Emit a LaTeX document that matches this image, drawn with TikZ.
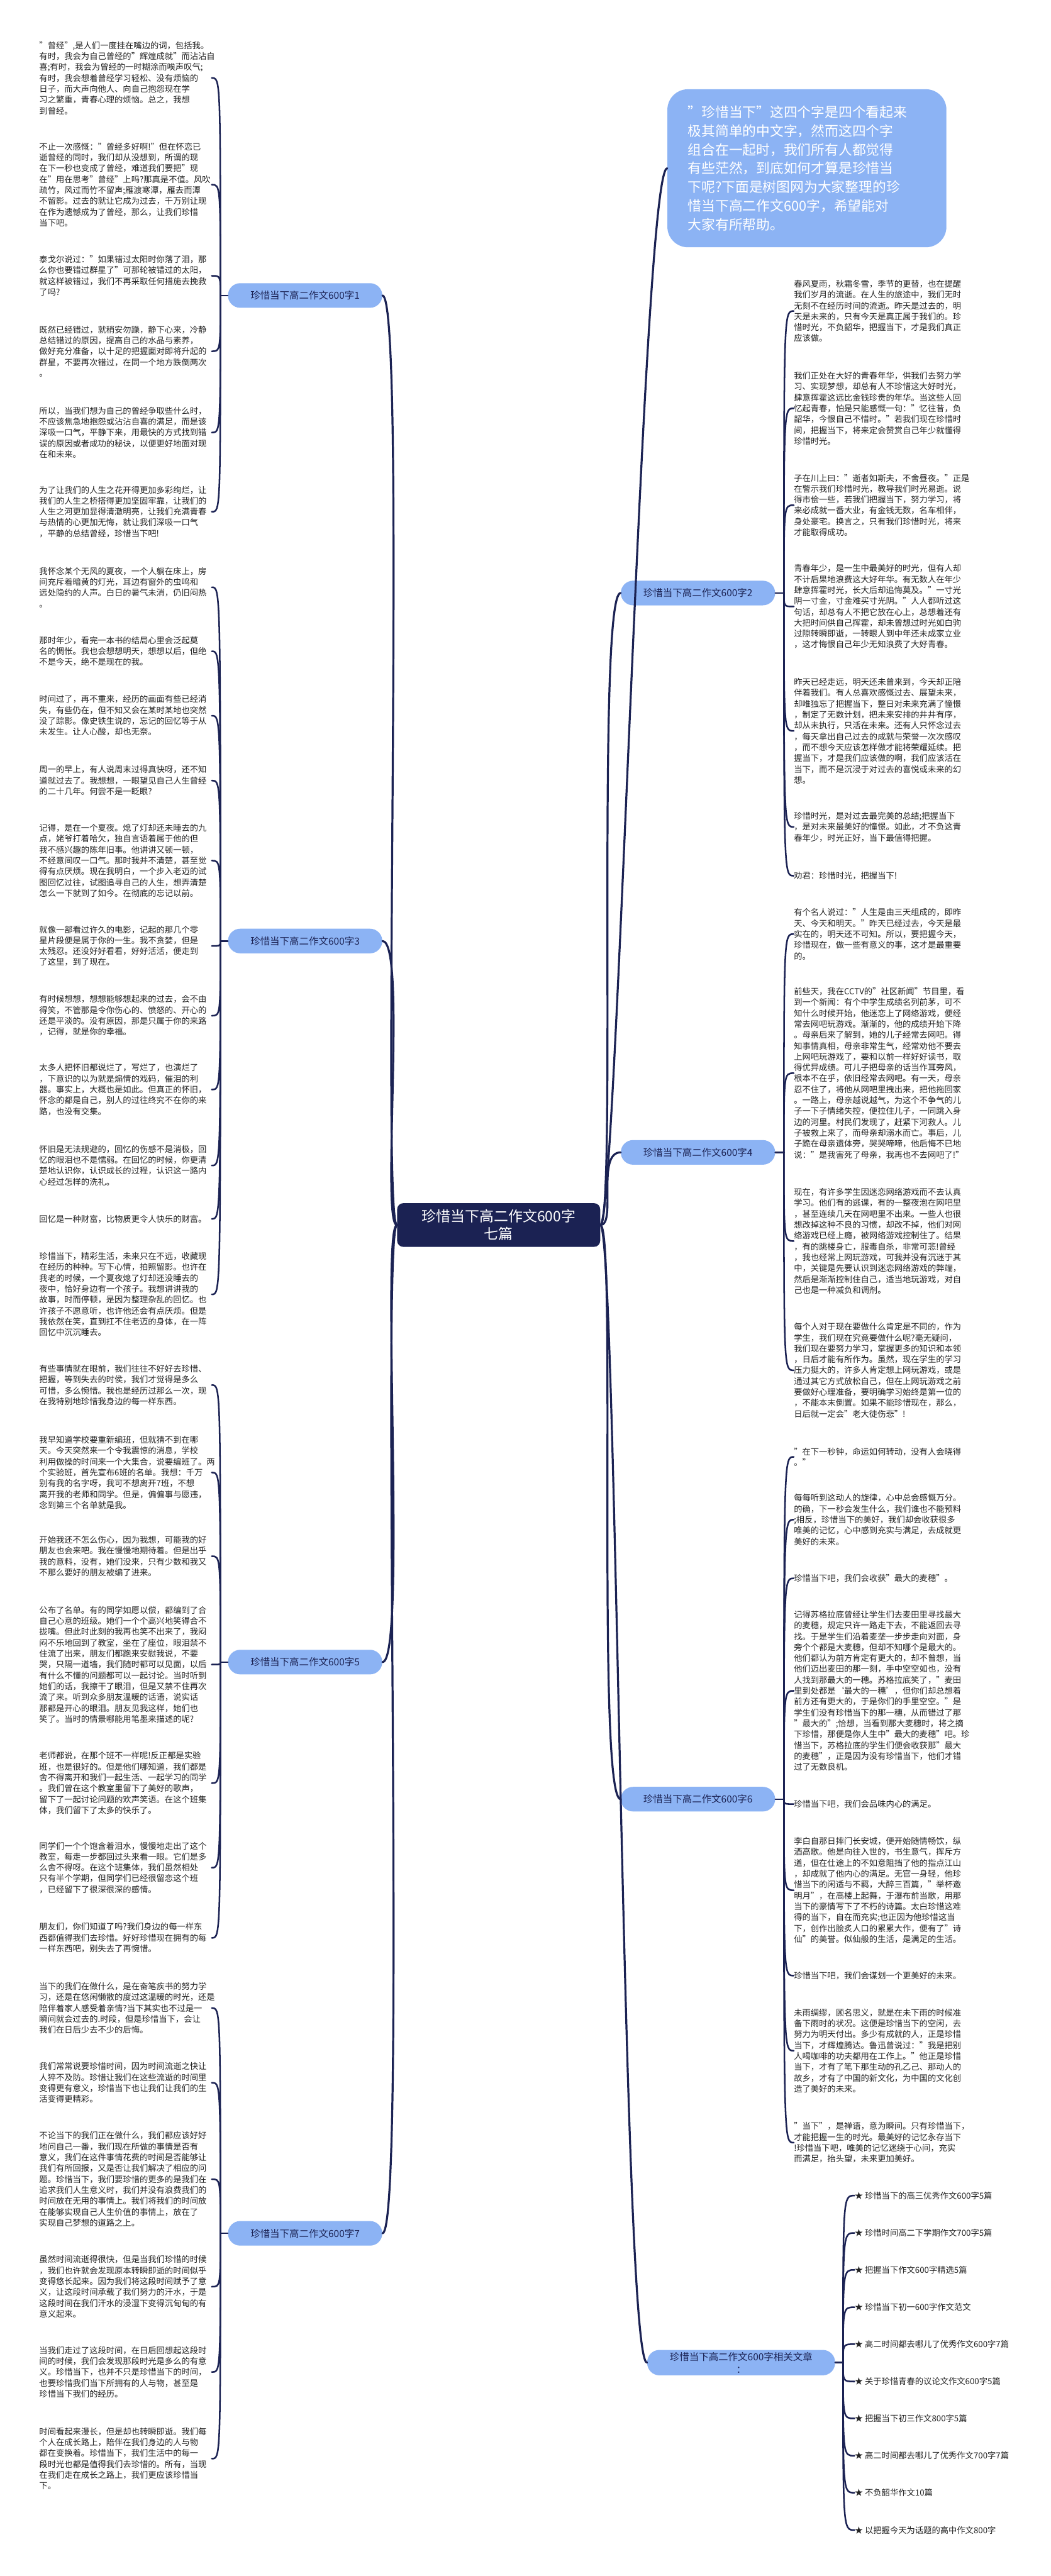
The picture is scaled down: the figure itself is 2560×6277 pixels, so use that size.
\documentclass[tikz,border=0pt]{standalone}
\usepackage{fontspec}
\setmainfont{Noto Sans CJK SC}
\definecolor{navy}{HTML}{1B2253}
\definecolor{capsule}{HTML}{8CB3F4}
\definecolor{ink}{HTML}{222222}

\begin{document}
\begin{tikzpicture}[x=0.02cm,y=-0.02cm,line cap=round,
  root node/.style={rectangle,rounded corners=0.3cm,fill=navy,text=white,align=center,
    font=\fontsize{20}{25}\selectfont,inner xsep=1.2cm,inner ysep=0.3cm},
  main node/.style={rectangle,rounded corners=0.6cm,fill=capsule,text=navy,align=center,
    font=\fontsize{13.5}{17}\selectfont,minimum height=1.2cm,inner xsep=1.1cm},
  intro/.style={rectangle,rounded corners=1cm,fill=capsule,text=white,align=left,
    font=\fontsize{19}{26}\selectfont,text width=11.6cm,inner xsep=1cm,inner ysep=0.8cm},
  leaf/.style={text=ink,font=\fontsize{11.6}{15.1}\selectfont,align=left,text width=8.4cm,inner sep=0pt},
  limb/.style={draw=navy,line width=2.8pt},
  limb left/.style={limb,to path={.. controls +(-40,0) and +(60,0) .. (\tikztotarget)}},
  limb right/.style={limb,to path={.. controls +(40,0) and +(-60,0) .. (\tikztotarget)}},
  stem/.style={draw=navy,line width=2.2pt},
  twig/.style={stem,to path={.. controls (\tikztostart |- \tikztotarget) .. (\tikztotarget)}}]
\useasboundingbox[fill=white] (0,0) rectangle (2560,6277);

% centre and branches
\node[root node] (0) at (1215,2985) {珍惜当下高二作文600字\\七篇};
\node[main node,anchor=west] (1) at (555,720) {珍惜当下高二作文600字1};
\node[main node,anchor=west] (3) at (555,2293) {珍惜当下高二作文600字3};
\node[main node,anchor=west] (5) at (555,4050) {珍惜当下高二作文600字5};
\node[main node,anchor=west] (7) at (555,5442) {珍惜当下高二作文600字7};
\node[main node,anchor=east] (2) at (1889,1445) {珍惜当下高二作文600字2};
\node[main node,anchor=east] (4) at (1889,2808) {珍惜当下高二作文600字4};
\node[main node,anchor=east] (6) at (1889,4384) {珍惜当下高二作文600字6};
\node[main node,anchor=east] (r) at (2035,5757) {珍惜当下高二作文600字相关文章\\：};
\node[intro] (i) at (1966,410) {"珍惜当下"这四个字是四个看起来\\极其简单的中文字，然而这四个字\\组合在一起时，我们所有人都觉得\\有些茫然，到底如何才算是珍惜当\\下呢?下面是树图网为大家整理的珍\\惜当下高二作文600字，希望能对\\大家有所帮助。};

\coordinate (j1) at (537,720);
\coordinate (j3) at (537,2293);
\coordinate (j5) at (537,4050);
\coordinate (j7) at (537,5442);
\coordinate (j2) at (1910,1445);
\coordinate (j4) at (1910,2808);
\coordinate (j6) at (1910,4384);
\coordinate (jr) at (2054,5757);

% branch 1
\node[leaf,anchor=east] (1a) at (516,190) {"曾经",是人们一度挂在嘴边的词，包括我。\\有时，我会为自己曾经的"辉煌成就"而沾沾自\\喜;有时，我会为曾经的一时糊涂而唉声叹气;\\有时，我会想着曾经学习轻松、没有烦恼的\\日子，而大声向他人、向自己抱怨现在学\\习之繁重，青春心理的烦恼。总之，我想\\到曾经。};
\node[leaf,anchor=east] (1b) at (516,450) {不止一次感慨："曾经多好啊!"但在怀恋已\\逝曾经的同时，我们却从没想到，所谓的现\\在下一秒也变成了曾经，难道我们要把"现\\在"用在思考"曾经"上吗?那真是不值。风吹\\疏竹，风过而竹不留声;雁渡寒潭，雁去而潭\\不留影。过去的就让它成为过去，千万别让现\\在作为遗憾成为了曾经，那么，让我们珍惜\\当下吧。};
\node[leaf,anchor=east] (1c) at (516,672) {泰戈尔说过："如果错过太阳时你落了泪，那\\么你也要错过群星了"可那轮被错过的太阳，\\就这样被错过，我们不再采取任何措施去挽救\\了吗?};
\node[leaf,anchor=east] (1d) at (516,856) {既然已经错过，就稍安勿躁，静下心来，冷静\\总结错过的原因，提高自己的水品与素养，\\做好充分准备，以十足的把握面对即将升起的\\群星，不要再次错过，在同一个地方跌倒两次\\。};
\node[leaf,anchor=east] (1e) at (516,1054) {所以，当我们想为自己的曾经争取些什么时，\\不应该焦急地抱怨或沾沾自喜的满足，而是该\\深吸一口气，平静下来，用最快的方式找到错\\误的原因或者成功的秘诀，以便更好地面对现\\在和未来。};
\node[leaf,anchor=east] (1f) at (516,1247) {为了让我们的人生之花开得更加多彩绚烂，让\\我们的人生之桥搭得更加坚固牢靠，让我们的\\人生之河更加显得清澈明亮，让我们充满青春\\与热情的心更加无悔，就让我们深吸一口气\\，平静的总结曾经，珍惜当下吧!};

% branch 3
\node[leaf,anchor=east] (3a) at (516,1431) {我怀念某个无风的夏夜，一个人躺在床上，房\\间充斥着暗黄的灯光，耳边有窗外的虫鸣和\\远处隐约的人声。白日的暑气未消，仍旧闷热\\。};
\node[leaf,anchor=east] (3b) at (516,1587) {那时年少，看完一本书的结局心里会泛起莫\\名的惆怅。我也会想想明天，想想以后，但绝\\不是今天，绝不是现在的我。};
\node[leaf,anchor=east] (3c) at (516,1744) {时间过了，再不重来，经历的画面有些已经消\\失，有些仍在，但不知又会在某时某地也突然\\没了踪影。像史铁生说的，忘记的回忆等于从\\未发生。让人心酸，却也无奈。};
\node[leaf,anchor=east] (3d) at (516,1902) {周一的早上，有人说周末过得真快呀，还不知\\道就过去了。我想想，一眼望见自己人生曾经\\的二十几年。何尝不是一眨眼?};
\node[leaf,anchor=east] (3e) at (516,2097) {记得，是在一个夏夜。熄了灯却还未睡去的九\\点，姥爷打着哈欠，独自言语着属于他的但\\我不感兴趣的陈年旧事。他讲讲又顿一顿，\\不经意间叹一口气。那时我并不清楚，甚至觉\\得有点厌烦。现在我明白，一个步入老迈的试\\图回忆过往，试图追寻自己的人生，想弄清楚\\怎么一下就到了如今。在彻底的忘记以前。};
\node[leaf,anchor=east] (3f) at (516,2305) {就像一部看过许久的电影，记起的那几个零\\星片段便是属于你的一生。我不贪婪，但是\\太残忍。还没好好看看，好好活活，便走到\\了这里，到了现在。};
\node[leaf,anchor=east] (3g) at (516,2475) {有时候想想，想想能够想起来的过去，会不由\\得笑，不管那是令你伤心的、愤怒的、开心的\\还是平淡的。没有原因，那是只属于你的来路\\，记得，就是你的幸福。};
\node[leaf,anchor=east] (3h) at (516,2655) {太多人把怀旧都说烂了，写烂了，也演烂了\\，下意识的以为就是煽情的戏码，催泪的利\\器。事实上，大概也是如此。但真正的怀旧，\\怀念的都是自己，别人的过往终究不在你的来\\路，也没有交集。};
\node[leaf,anchor=east] (3i) at (516,2840) {怀旧是无法规避的，回忆的伤感不是消极，回\\忆的眼泪也不是懦弱。在回忆的时候，你更清\\楚地认识你，认识成长的过程，认识这一路内\\心经过怎样的洗礼。};
\node[leaf,anchor=east] (3j) at (516,2970) {回忆是一种财富，比物质更令人快乐的财富。};
\node[leaf,anchor=east] (3k) at (516,3154) {珍惜当下，精彩生活，未来只在不远，收藏现\\在经历的种种。写下心情，拍照留影。也许在\\我老的时候，一个夏夜熄了灯却还没睡去的\\夜中，恰好身边有一个孩子。我想讲讲我的\\故事，时而停顿，是因为整理杂乱的回忆。也\\许孩子不愿意听，也许他还会有点厌烦。但是\\我依然在笑，直到扛不住老迈的身体，在一阵\\回忆中沉沉睡去。};

% branch 5
\node[leaf,anchor=east] (5a) at (516,3375) {有些事情就在眼前，我们往往不好好去珍惜、\\把握，等到失去的时侯，我们才觉得是多么\\可惜，多么惋惜。我也是经历过那么一次，现\\在我特别地珍惜我身边的每一样东西。};
\node[leaf,anchor=east] (5b) at (516,3588) {我早知道学校要重新编班，但就猜不到在哪\\天。今天突然来一个令我震惊的消息，学校\\利用做操的时间来一个大集合，说要编班了。两\\个实验班，首先宣布6班的名单。我想：千万\\别有我的名字呀，我可不想离开7班，不想\\离开我的老师和同学。但是，偏偏事与愿违，\\念到第三个名单就是我。};
\node[leaf,anchor=east] (5c) at (516,3792) {开始我还不怎么伤心，因为我想，可能我的好\\朋友也会来吧。我在慢慢地期待着。但是出乎\\我的意料，没有，她们没来，只有少数和我又\\不那么要好的朋友被编了进来。};
\node[leaf,anchor=east] (5d) at (516,4056) {公布了名单。有的同学如愿以偿，都编到了合\\自己心意的班级。她们一个个高兴地笑得合不\\拢嘴。但此时此刻的我再也笑不出来了，我闷\\闷不乐地回到了教室，坐在了座位，眼泪禁不\\住流了出来，朋友们都跑来安慰我说，不要\\哭，只隔一道墙，我们随时都可以见面，以后\\有什么不懂的问题都可以一起讨论。当时听到\\她们的话，我擦干了眼泪，但是又禁不住再次\\流了来。听到众多朋友温暖的话语，说实话\\那都是开心的眼泪。朋友见我这样，她们也\\笑了。当时的情景哪能用笔墨来描述的呢?};
\node[leaf,anchor=east] (5e) at (516,4345) {老师都说，在那个班不一样呢!反正都是实验\\班，也是很好的。但是他们哪知道，我们都是\\舍不得离开和我们一起生活、一起学习的同学\\。我们曾在这个教室里留下了美好的歌声，\\留下了一起讨论问题的欢声笑语。在这个班集\\体，我们留下了太多的快乐了。};
\node[leaf,anchor=east] (5f) at (516,4551) {同学们一个个饱含着泪水，慢慢地走出了这个\\教室，每走一步都回过头来看一眼。它们是多\\么舍不得呀。在这个班集体，我们虽然相处\\只有半个学期，但同学们已经很留恋这个班\\，已经留下了很深很深的感情。};
\node[leaf,anchor=east] (5g) at (516,4722) {朋友们，你们知道了吗?我们身边的每一样东\\西都值得我们去珍惜。好好珍惜现在拥有的每\\一样东西吧，别失去了再惋惜。};

% branch 7
\node[leaf,anchor=east] (7a) at (516,4893) {当下的我们在做什么，是在奋笔疾书的努力学\\习，还是在悠闲懒散的度过这温暖的时光，还是\\陪伴着家人感受着亲情?当下其实也不过是一\\瞬间就会过去的.时段，但是珍惜当下，会让\\我们在日后少去不少的后悔。};
\node[leaf,anchor=east] (7b) at (516,5075) {我们常常说要珍惜时间，因为时间流逝之快让\\人猝不及防。珍惜让我们在这些流逝的时间里\\变得更有意义，珍惜当下也让我们让我们的生\\活变得更精彩。};
\node[leaf,anchor=east] (7c) at (516,5310) {不论当下的我们正在做什么，我们都应该好好\\地问自己一番，我们现在所做的事情是否有\\意义，我们在这件事情花费的时间是否能够让\\我们有所回报，又是否让我们解决了相应的问\\题。珍惜当下，我们要珍惜的更多的是我们在\\追求我们人生意义时，我们并没有浪费我们的\\时间放在无用的事情上。我们将我们的时间放\\在能够实现自己人生价值的事情上，放在了\\实现自己梦想的道路之上。};
\node[leaf,anchor=east] (7d) at (516,5572) {虽然时间流逝得很快，但是当我们珍惜的时候\\，我们也许就会发现原本转瞬即逝的时间似乎\\变得悠长起来。因为我们将这段时间赋予了意\\义，让这段时间承载了我们努力的汗水，于是\\这段时间在我们汗水的浸湿下变得沉甸甸的有\\意义起来。};
\node[leaf,anchor=east] (7e) at (516,5780) {当我们走过了这段时间，在日后回想起这段时\\间的时候，我们会发现那段时光是多么的有意\\义。珍惜当下，也并不只是珍惜当下的时间，\\也要珍惜我们当下所拥有的人与物，甚至是\\珍惜当下我们的经历。};
\node[leaf,anchor=east] (7f) at (516,5991) {时间看起来漫长，但是却也转瞬即逝。我们每\\个人在成长路上，陪伴在我们身边的人与物\\都在变换着。珍惜当下，我们生活中的每一\\段时光也都是值得我们去珍惜的。所有，当现\\在我们走在成长之路上，我们更应该珍惜当\\下。};

% branch 2
\node[leaf,anchor=west] (2a) at (1934,758) {春风夏雨，秋霜冬雪，季节的更替，也在提醒\\我们岁月的流逝。在人生的旅途中，我们无时\\无刻不在经历时间的流逝。昨天是过去的，明\\天是未来的，只有今天是真正属于我们的。珍\\惜时光，不负韶华，把握当下，才是我们真正\\应该做。};
\node[leaf,anchor=west] (2b) at (1934,995) {我们正处在大好的青春年华，供我们去努力学\\习、实现梦想，却总有人不珍惜这大好时光，\\肆意挥霍这远比金钱珍贵的年华。当这些人回\\忆起青春，怕是只能感慨一句："忆往昔，负\\韶华，今恨自己不惜时。"若我们现在珍惜时\\间，把握当下，将来定会赞赏自己年少就懂得\\珍惜时光。};
\node[leaf,anchor=west] (2c) at (1934,1231) {子在川上曰："逝者如斯夫，不舍昼夜。"正是\\在警示我们珍惜时光，教导我们时光易逝。说\\得市侩一些，若我们把握当下，努力学习，将\\来必成就一番大业，有金钱无数，名车相伴，\\身处豪宅。换言之，只有我们珍惜时光，将来\\才能取得成功。};
\node[leaf,anchor=west] (2d) at (1934,1478) {青春年少，是一生中最美好的时光，但有人却\\不计后果地浪费这大好年华。有无数人在年少\\肆意挥霍时光，长大后却追悔莫及。"一寸光\\阴一寸金，寸金难买寸光阴。"人人都听过这\\句话，却总有人不把它放在心上，总想着还有\\大把时间供自己挥霍，却未曾想过时光如白驹\\过隙转瞬即逝，一转眼人到中年还未成家立业\\，这才悔恨自己年少无知浪费了大好青春。};
\node[leaf,anchor=west] (2e) at (1934,1781) {昨天已经走远，明天还未曾来到，今天却正陪\\伴着我们。有人总喜欢感慨过去、展望未来，\\却唯独忘了把握当下，整日对未来充满了憧憬\\，制定了无数计划，把未来安排的井井有序，\\却从未执行，只活在未来。还有人只怀念过去\\，每天拿出自己过去的成就与荣誉一次次感叹\\，而不想今天应该怎样做才能将荣耀延续。把\\握当下，才是我们应该做的啊，我们应该活在\\当下，而不是沉浸于对过去的喜悦或未来的幻\\想。};
\node[leaf,anchor=west] (2f) at (1934,2015) {珍惜时光，是对过去最完美的总结;把握当下\\，是对未来最美好的憧憬。如此，才不负这青\\春年少，时光正好，当下最值得把握。};
\node[leaf,anchor=west] (2g) at (1934,2134) {劝君：珍惜时光，把握当下!};

% branch 4
\node[leaf,anchor=west] (4a) at (1934,2276) {有个名人说过："人生是由三天组成的，即昨\\天、今天和明天。"昨天已经过去，今天是最\\实在的，明天还不可知。所以，要把握今天，\\珍惜现在，做一些有意义的事，这才是最重要\\的。};
\node[leaf,anchor=west] (4b) at (1934,2615) {前些天，我在CCTV的"社区新闻"节目里，看\\到一个新闻：有个中学生成绩名列前茅，可不\\知什么时候开始，他迷恋上了网络游戏，便经\\常去网吧玩游戏。渐渐的，他的成绩开始下降\\。母亲后来了解到，她的儿子经常去网吧。得\\知事情真相，母亲非常生气，经常劝他不要去\\上网吧玩游戏了，要和以前一样好好读书，取\\得优异成绩。可儿子把母亲的话当作耳旁风，\\根本不在乎，依旧经常去网吧。有一天，母亲\\忍不住了，将他从网吧里拽出来，把他拖回家\\。一路上，母亲越说越气，为这个不争气的儿\\子一下子情绪失控，便拉住儿子，一同跳入身\\边的河里。村民们发现了，赶紧下河救人。儿\\子被救上来了，而母亲却溺水而亡。事后，儿\\子跪在母亲遗体旁，哭哭啼啼，他后悔不已地\\说："是我害死了母亲，我再也不去网吧了!"};
\node[leaf,anchor=west] (4c) at (1934,3024) {现在，有许多学生因迷恋网络游戏而不去认真\\学习。他们有的逃课，有的一整夜泡在网吧里\\，甚至连续几天在网吧里不出来。一些人也很\\想改掉这种不良的习惯，却改不掉，他们对网\\络游戏已经上瘾，被网络游戏控制住了。结果\\，有的跳楼身亡，服毒自杀，非常可悲!曾经\\，我也经常上网玩游戏，可我并没有沉迷于其\\中，关键是先要认识到迷恋网络游戏的弊端，\\然后是渐渐控制住自己，适当地玩游戏，对自\\己也是一种减负和调剂。};
\node[leaf,anchor=west] (4d) at (1934,3339) {每个人对于现在要做什么肯定是不同的，作为\\学生，我们现在究竟要做什么呢?毫无疑问，\\我们现在要努力学习，掌握更多的知识和本领\\，日后才能有所作为。虽然，现在学生的学习\\压力挺大的，许多人肯定想上网玩游戏，或是\\通过其它方式放松自己，但在上网玩游戏之前\\要做好心理准备，要明确学习始终是第一位的\\，不能本末倒置。如果不能珍惜现在，那么，\\日后就一定会"老大徒伤悲"!};

% branch 6
\node[leaf,anchor=west] (6a) at (1934,3550) {"在下一秒钟，命运如何转动，没有人会晓得\\。"};
\node[leaf,anchor=west] (6b) at (1934,3703) {每每听到这动人的旋律，心中总会感慨万分。\\的确，下一秒会发生什么，我们谁也不能预料\\;相反，珍惜当下的美好，我们却会收获很多\\唯美的记忆，心中感到充实与满足，去成就更\\美好的未来。};
\node[leaf,anchor=west] (6c) at (1934,3846) {珍惜当下吧，我们会收获"最大的麦穗"。};
\node[leaf,anchor=west] (6d) at (1934,4120) {记得苏格拉底曾经让学生们去麦田里寻找最大\\的麦穗，规定只许一路走下去，不能返回去寻\\找。于是学生们沿着麦垄一步步走向对面，身\\旁个个都是大麦穗，但却不知哪个是最大的。\\他们都认为前方肯定有更大的，却不曾想，当\\他们迈出麦田的那一刻，手中空空如也，没有\\人找到那最大的一穗。苏格拉底笑了，"麦田\\里到处都是‘最大的一穗’，但你们却总想着\\前方还有更大的，于是你们的手里空空。"是\\学生们没有珍惜当下的那一穗，从而错过了那\\"最大的";恰想，当看到那大麦穗时，将之摘\\下珍惜，那便是你人生中"最大的麦穗"吧。珍\\惜当下，苏格拉底的学生们便会收获那"最大\\的麦穗"，正是因为没有珍惜当下，他们才错\\过了无数良机。};
\node[leaf,anchor=west] (6e) at (1934,4396) {珍惜当下吧，我们会品味内心的满足。};
\node[leaf,anchor=west] (6f) at (1934,4606) {李白自那日摔门长安城，便开始随情畅饮，纵\\酒高歌。他是向往入世的，书生意气，挥斥方\\遒，但在仕途上的不如意阻挡了他的指点江山\\，却成就了他内心的满足。无官一身轻，他珍\\惜当下的闲适与不羁，大醉三百篇，"举杯邀\\明月"，在高楼上起舞，于瀑布前当歌，用那\\当下的豪情写下了不朽的诗篇。太白珍惜这难\\得的当下，自在而充实;也正因为他珍惜这当\\下，创作出脍炙人口的累累大作，便有了"诗\\仙"的美誉。似仙般的生活，是满足的生活。};
\node[leaf,anchor=west] (6g) at (1934,4814) {珍惜当下吧，我们会谋划一个更美好的未来。};
\node[leaf,anchor=west] (6h) at (1934,4997) {未雨绸缪，顾名思义，就是在未下雨的时候准\\备下雨时的状况。这便是珍惜当下的空闲，去\\努力为明天付出。多少有成就的人，正是珍惜\\当下，才辉煌腾达。鲁迅曾说过："我是把别\\人喝咖啡的功夫都用在工作上。"他正是珍惜\\当下，才有了笔下那生动的孔乙己、那动人的\\故乡，才有了中国的新文化，为中国的文化创\\造了美好的未来。};
\node[leaf,anchor=west] (6i) at (1934,5221) {"当下"，是禅语，意为瞬间。只有珍惜当下，\\才能把握一生的时光。最美好的记忆永存当下\\!珍惜当下吧，唯美的记忆迷绕于心间，充实\\而满足，抬头望，未来更加美好。};

% related articles
\node[leaf,anchor=west,text width=] (r1) at (2082,5350) {★ 珍惜当下的高三优秀作文600字5篇};
\node[leaf,anchor=west,text width=] (r2) at (2082,5441) {★ 珍惜时间高二下学期作文700字5篇};
\node[leaf,anchor=west,text width=] (r3) at (2082,5531) {★ 把握当下作文600字精选5篇};
\node[leaf,anchor=west,text width=] (r4) at (2082,5622) {★ 珍惜当下初一600字作文范文};
\node[leaf,anchor=west,text width=] (r5) at (2082,5712) {★ 高二时间都去哪儿了优秀作文600字7篇};
\node[leaf,anchor=west,text width=] (r6) at (2082,5803) {★ 关于珍惜青春的议论文作文600字5篇};
\node[leaf,anchor=west,text width=] (r7) at (2082,5893) {★ 把握当下初三作文800字5篇};
\node[leaf,anchor=west,text width=] (r8) at (2082,5984) {★ 高二时间都去哪儿了优秀作文700字7篇};
\node[leaf,anchor=west,text width=] (r9) at (2082,6074) {★ 不负韶华作文10篇};
\node[leaf,anchor=west,text width=] (r10) at (2082,6165) {★ 以把握今天为话题的高中作文800字};

% centre to branches
\path (0.west) edge[limb left] (1.east);
\path (0.west) edge[limb left] (3.east);
\path (0.west) edge[limb left] (5.east);
\path (0.west) edge[limb left] (7.east);
\path (0.east) edge[limb right] (i.west);
\path (0.east) edge[limb right] (2.west);
\path (0.east) edge[limb right] (4.west);
\path (0.east) edge[limb right] (6.west);
\path (0.east) edge[limb right] (r.west);

% branches to leaves
\path (1.west) edge[stem] (j1) (3.west) edge[stem] (j3) (5.west) edge[stem] (j5) (7.west) edge[stem] (j7);
\path (2.east) edge[stem] (j2) (4.east) edge[stem] (j4) (6.east) edge[stem] (j6) (r.east) edge[stem] (jr);
\foreach \l in {a,b,c,d,e,f} \path (j1) edge[twig] (1\l);
\foreach \l in {a,b,c,d,e,f,g,h,i,j,k} \path (j3) edge[twig] (3\l);
\foreach \l in {a,b,c,d,e,f,g} \path (j5) edge[twig] (5\l);
\foreach \l in {a,b,c,d,e,f} \path (j7) edge[twig] (7\l);
\foreach \l in {a,b,c,d,e,f,g} \path (j2) edge[twig] (2\l);
\foreach \l in {a,b,c,d} \path (j4) edge[twig] (4\l);
\foreach \l in {a,b,c,d,e,f,g,h,i} \path (j6) edge[twig] (6\l);
\foreach \n in {1,...,10} \path (jr) edge[twig] (r\n);
\end{tikzpicture}
\end{document}
